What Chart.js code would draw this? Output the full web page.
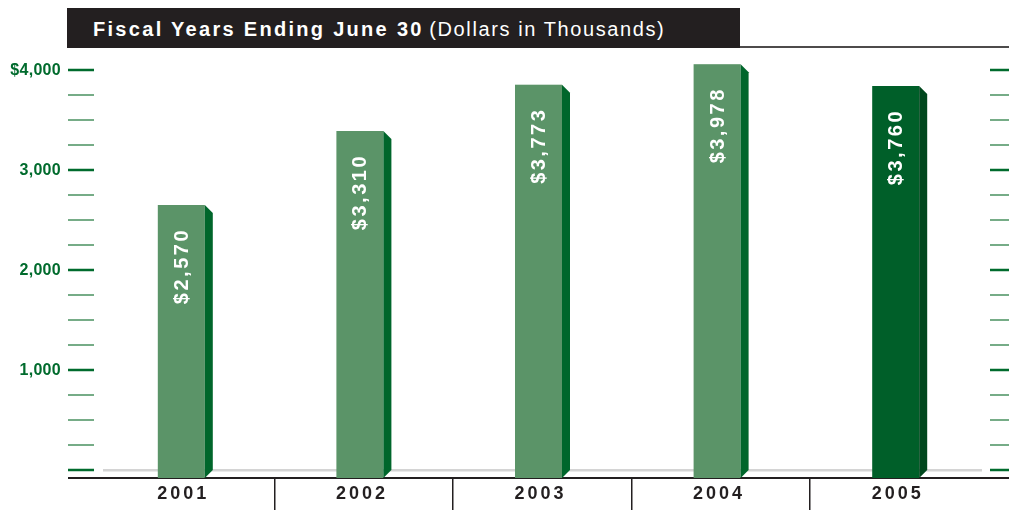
<!DOCTYPE html>
<html>
<head>
<meta charset="utf-8">
<script src="https://cdn.jsdelivr.net/npm/chart.js@4.4.1/dist/chart.umd.min.js"></script>
<style>
  html, body { margin: 0; padding: 0; background: #ffffff; }
  #wrap { position: relative; width: 1009px; height: 510px; }
  #titleBar {
    position: absolute; left: 67px; top: 8px; width: 673px; height: 40px;
    background: #231f20; color: #ffffff;
    font-family: 'Liberation Sans', Arial, sans-serif; font-size: 20px;
    line-height: 42px; white-space: nowrap; box-sizing: border-box; padding-left: 26px;
  }
  #titleBar b { letter-spacing: 2.3px; }
  #titleBar span { letter-spacing: 1.6px; font-weight: normal; }
  #chart { position: absolute; left: 0; top: 0; }
</style>
</head>
<body>
<div id="wrap">
  <canvas id="chart" width="1009" height="510"></canvas>
  <div id="titleBar"><b>Fiscal Years Ending June 30</b> <span>(Dollars in Thousands)</span></div>
</div>
<script>
// Fiscal year totals, dollars in thousands
const years = ['2001', '2002', '2003', '2004', '2005'];
const amounts = [2570, 3310, 3773, 3978, 3760];
const valueLabels = ['$2,570', '$3,310', '$3,773', '$3,978', '$3,760'];
const majorTicks = [1000, 2000, 3000, 4000];
const majorTickLabels = ['1,000', '2,000', '3,000', '$4,000'];
const minorStep = 250;

const frontColors = ['#5b9468', '#5b9468', '#5b9468', '#5b9468', '#005f29'];
const sideColors = ['#00662b', '#00662b', '#00662b', '#00662b', '#00471d'];
const DEPTH = 8;

// draws the axes, tick marks, 3d bars and their labels
const decorPlugin = {
    id: 'decor',
    beforeDatasetsDraw(chart) {
        const ctx = chart.ctx;
        const area = chart.chartArea;
        const y = chart.scales.y;
        const x = chart.scales.x;
        ctx.save();

        // rule to the right of the title bar
        ctx.fillStyle = '#4d4b4b';
        ctx.fillRect(740, 46, 269, 2);

        // zero line
        const zeroY = y.getPixelForValue(0);
        ctx.fillStyle = '#d4d4d4';
        ctx.fillRect(area.left + 11, zeroY - 1, area.right - area.left - 14, 2.5);

        // tick marks on both sides
        for (let v = 0; v <= 4000; v += minorStep) {
            const py = Math.round(y.getPixelForValue(v));
            const major = v % 1000 === 0;
            ctx.fillStyle = major ? '#006b2d' : '#4a9160';
            const h = major ? 2.5 : 1.5;
            ctx.fillRect(68, py - h / 2, 26, h);
            ctx.fillRect(990, py - h / 2, 19, h);
        }

        // y labels
        ctx.fillStyle = '#006b2d';
        ctx.font = 'bold 16px "Liberation Sans", Arial, sans-serif';
        ctx.letterSpacing = '0.3px';
        ctx.textAlign = 'right';
        ctx.textBaseline = 'middle';
        majorTicks.forEach((v, i) => {
            ctx.fillText(majorTickLabels[i], 61, y.getPixelForValue(v) + 1);
        });

        // bottom axis line and dividers
        ctx.fillStyle = '#231f20';
        ctx.fillRect(68, area.bottom - 1, 941, 2);
        for (let i = 0; i < years.length - 1; i++) {
            const mid = (x.getPixelForValue(i) + x.getPixelForValue(i + 1)) / 2 + DEPTH / 2;
            ctx.fillRect(Math.round(mid) - 1, area.bottom, 1.5, 32);
        }

        // year labels
        ctx.font = 'bold 18px "Liberation Sans", Arial, sans-serif';
        ctx.letterSpacing = '3px';
        ctx.textAlign = 'center';
        years.forEach((yr, i) => {
            ctx.fillText(yr, x.getPixelForValue(i) + 2, 494);
        });
        ctx.restore();
    },
    afterDatasetsDraw(chart) {
        const ctx = chart.ctx;
        const meta = chart.getDatasetMeta(0);
        const zeroY = chart.scales.y.getPixelForValue(0);
        ctx.save();
        meta.data.forEach((bar, i) => {
            const w = bar.width;
            const left = bar.x - w / 2;
            const right = bar.x + w / 2;
            const top = bar.y - DEPTH;
            const bottom = zeroY + DEPTH;
            ctx.fillStyle = frontColors[i];
            ctx.fillRect(left, top, w, bottom - top);
            ctx.fillStyle = sideColors[i];
            ctx.beginPath();
            ctx.moveTo(right, top);
            ctx.lineTo(right + DEPTH, top + DEPTH);
            ctx.lineTo(right + DEPTH, zeroY);
            ctx.lineTo(right, bottom);
            ctx.closePath();
            ctx.fill();

            // rotated value label
            ctx.save();
            ctx.translate(bar.x + 1, top + 23);
            ctx.rotate(-Math.PI / 2);
            ctx.fillStyle = '#ffffff';
            ctx.font = 'bold 20px "Liberation Sans", Arial, sans-serif';
            ctx.letterSpacing = '2.5px';
            ctx.textAlign = 'right';
            ctx.textBaseline = 'middle';
            ctx.fillText(valueLabels[i], 0, 0);
            ctx.restore();
        });
        ctx.restore();
    }
};

new Chart(document.getElementById('chart'), {
    type: 'bar',
    data: {
        labels: years,
        datasets: [{
            data: amounts,
            backgroundColor: 'rgba(0,0,0,0)',
            barThickness: 47
        }]
    },
    options: {
        responsive: false,
        animation: false,
        layout: { padding: { left: 92, right: 24, top: 60, bottom: 32 } },
        plugins: {
            legend: { display: false },
            tooltip: { enabled: false }
        },
        scales: {
            x: { display: false },
            y: { display: false, min: -80, max: 4100 }
        }
    },
    plugins: [decorPlugin]
});
</script>
</body>
</html>
